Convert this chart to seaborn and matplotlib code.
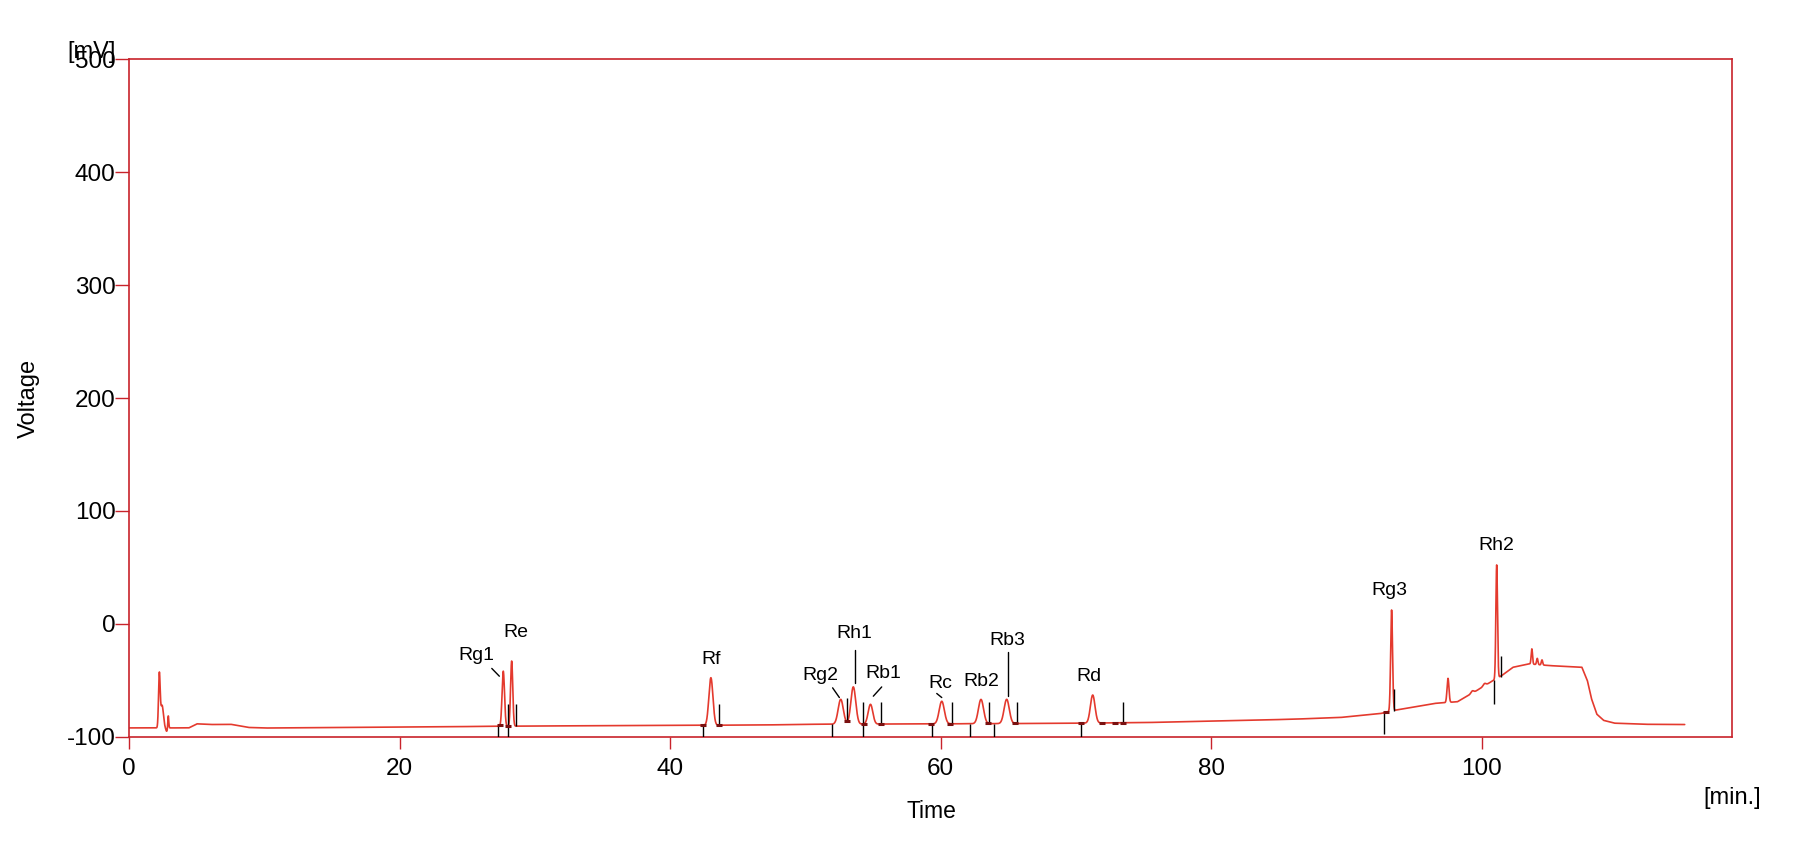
import numpy as np
import pandas as pd
import matplotlib
matplotlib.use("Agg")
import matplotlib.pyplot as plt
import seaborn as sns

# ---------------- data ----------------
# baseline of the trace (time in min, signal in mV)
baseline_t = [0.0, 4.4, 5.0, 6.0, 7.5, 8.8, 10.0, 20.0, 27.0, 30.0, 40.0, 47.0, 50.0,
              60.0, 68.0, 75.0, 80.0, 83.0, 86.0, 89.5, 92.5, 93.6, 96.5, 98.2,
              99.5, 100.8, 101.5, 102.3, 103.5, 105.0, 107.4, 107.8, 108.1, 108.5,
              109.0, 109.8, 112.0, 115.0]
baseline_mv = [-92.2, -92.2, -88.6, -89.2, -89.0, -91.8, -92.3, -91.5, -90.8, -90.5,
               -90.0, -89.6, -89.0, -88.6, -88.2, -87.5, -86.2, -85.4, -84.5, -83.0,
               -79.5, -76.5, -70.5, -69.0, -60.0, -50.5, -45.6, -38.5, -35.5, -37.0,
               -38.5, -50.0, -66.0, -80.0, -85.5, -88.0, -89.0, -89.2]

# peaks: retention time (min), height above baseline (mV), width (sigma, min)
peak_rt = [2.22, 2.42, 2.76, 2.88, 27.65, 28.27, 43.0, 52.6, 53.53, 54.8, 60.07,
           62.97, 64.87, 71.23, 93.33, 97.5, 99.3, 100.2, 101.1, 103.7, 104.1, 104.45]
peak_height = [46.7, 20.0, -3.0, 11.0, 48.8, 57.7, 42.1, 22.0, 33.0, 17.5, 20.0,
               21.5, 21.5, 24.8, 89.5, 21.3, 2.0, 2.0, 100.6, 13.5, 5.5, 4.5]
peak_sigma = [0.06, 0.10, 0.06, 0.035, 0.09, 0.08, 0.15, 0.19, 0.18, 0.17, 0.19,
              0.19, 0.19, 0.17, 0.07, 0.07, 0.1, 0.1, 0.06, 0.05, 0.05, 0.05]

# peak labels
label_names = ["Rg1", "Re", "Rf", "Rg2", "Rh1", "Rb1", "Rc", "Rb2", "Rb3", "Rd", "Rg3", "Rh2"]
label_t = [25.69, 28.59, 42.99, 51.12, 53.62, 55.75, 59.94, 62.97, 64.9, 70.98, 93.14, 101.05]
label_mv = [-27.8, -8.0, -31.6, -45.5, -8.3, -44.0, -52.9, -50.8, -14.5, -47.0, 29.8, 69.7]

# leader lines from labels to peaks
leader_t0 = [26.8, 52.0, 53.66, 55.63, 59.7, 64.99]
leader_mv0 = [-39.5, -56.7, -23.3, -55.9, -61.7, -24.8]
leader_t1 = [27.36, 52.5, 53.66, 55.01, 60.07, 64.99]
leader_mv1 = [-46.4, -65.3, -52.3, -64.1, -65.3, -64.1]

# integration markers (vertical black ticks)
marker_t = [27.28, 27.98, 28.57, 42.40, 43.62, 51.93, 53.04, 54.23, 55.56, 59.33, 60.81,
            62.16, 63.59, 63.96, 65.61, 70.34, 73.49, 92.79, 93.51, 100.93, 101.40]
marker_top = [-90.7, -70.6, -70.6, -89.8, -70.6, -88.9, -65.9, -69.2, -69.2, -88.9, -69.2,
              -88.9, -69.2, -88.9, -69.2, -88.3, -69.2, -78.9, -57.3, -50.0, -28.7]
marker_bottom = [-100, -100, -90.7, -100, -89.8, -100, -85.4, -100, -88.3, -100, -88.9,
                 -100, -88.9, -100, -88.9, -100, -88.3, -97.2, -77.1, -70.6, -47.0]

# small baseline dashes
dash_t = [27.4, 28.0, 42.4, 43.6, 53.1, 54.3, 55.6, 59.3, 60.7, 63.5, 65.5,
          70.4, 71.9, 72.9, 73.5, 92.9]

x_ticks = [0, 20, 40, 60, 80, 100]
y_ticks = [-100, 0, 100, 200, 300, 400, 500]

# ---------------- build trace ----------------
t = np.linspace(0, 115, 23001)
signal = np.interp(t, baseline_t, baseline_mv)
for rt, h, s in zip(peak_rt, peak_height, peak_sigma):
    signal = signal + h * np.exp(-0.5 * ((t - rt) / s) ** 2)
df = pd.DataFrame({"Time": t, "Voltage": signal})

# ---------------- plotting ----------------
sns.set_theme(style="white")
plt.rcParams["font.family"] = ["Liberation Sans", "DejaVu Sans"]
plt.rcParams["axes.unicode_minus"] = False
plt.rcParams["text.color"] = "black"
plt.rcParams["axes.labelcolor"] = "black"
plt.rcParams["xtick.color"] = "black"
plt.rcParams["ytick.color"] = "black"

FRAME = "#C8232B"
TRACE = "#E43A2E"

fig = plt.figure(figsize=(18.01, 8.51), dpi=100)
ax = fig.add_axes([0.0718, 0.1343, 0.8899, 0.7958])

sns.lineplot(data=df, x="Time", y="Voltage", ax=ax, color=TRACE, linewidth=1.2,
             estimator=None, sort=False)

ax.vlines(marker_t, marker_bottom, marker_top, color="black", linewidth=1.0, zorder=4)
for t0, y0, t1, y1 in zip(leader_t0, leader_mv0, leader_t1, leader_mv1):
    ax.plot([t0, t1], [y0, y1], color="black", linewidth=1.0)

dash_y = np.interp(dash_t, t, signal)
ax.plot(dash_t, dash_y, linestyle="none", marker="_", markersize=4, markeredgewidth=2.2,
        color="#7a1010", zorder=5)

for name, lt, lm in zip(label_names, label_t, label_mv):
    ax.text(lt, lm, name, ha="center", va="center", fontsize=14, color="black")

ax.set_xlim(0, 118.5)
ax.set_ylim(-100, 500)
ax.set_xticks(x_ticks)
ax.set_yticks(y_ticks)
ax.tick_params(axis="x", direction="out", length=8.5, width=1, color=FRAME,
               labelsize=17.5, labelcolor="black", pad=7, bottom=True)
ax.tick_params(axis="y", direction="out", length=10, width=1, color=FRAME,
               labelsize=17.5, labelcolor="black", pad=0, left=True)
for sp in ax.spines.values():
    sp.set_color(FRAME)
    sp.set_linewidth(1.2)
ax.grid(False)

ax.set_xlabel("Time", fontsize=16.5, color="black")
ax.set_ylabel("Voltage", fontsize=17, color="black")
ax.xaxis.set_label_coords(0.5002, -0.0935)
ax.yaxis.set_label_coords(-0.056, 0.5)

fig.text(92 / 1801, 1 - 52 / 851, "[mV]", ha="center", va="center", fontsize=17)
fig.text(1732 / 1801, 1 - 798 / 851, "[min.]", ha="center", va="center", fontsize=17)

fig.savefig("out.png", dpi=100)
